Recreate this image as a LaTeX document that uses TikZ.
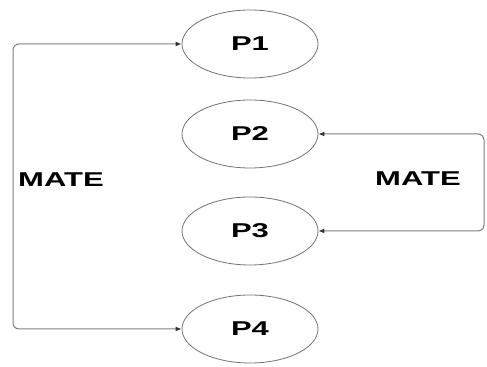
\documentclass[tikz,border=0pt]{standalone}
\usepackage{fontspec}
\newfontfamily\widesans[FakeStretch=1.55]{Liberation Sans}
\usetikzlibrary{arrows.meta,shapes.geometric}

\begin{document}
\begin{tikzpicture}[x=0.5pt, y=-0.5pt,
    every node/.style={font=\widesans\bfseries\fontsize{10}{12}\selectfont},
    person/.style={ellipse,draw=black!55,inner sep=0pt,minimum width=68pt,minimum height=34pt},
    mate/.style={draw=black!50,line width=0.5pt,rounded corners=3pt,{Latex[length=3pt,width=2.4pt,black!80]}-{Latex[length=3pt,width=2.4pt,black!80]}}]
  \useasboundingbox (0,0) rectangle (487,367);
  \node[person] (p1) at (250,44)  {P1};
  \node[person] (p2) at (250,134) {P2};
  \node[person] (p3) at (250,231) {P3};
  \node[person] (p4) at (250,329) {P4};
  % left loop
  \coordinate (lft) at (13,186);
  \draw[mate] (p1.west) -| (lft) |- (p4.west);
  \node (lmate) at (61,180) {MATE};
  % right loop
  \coordinate (rgt) at (484,182);
  \draw[mate] (p2.east) -| (rgt) |- (p3.east);
  \node (rmate) at (418,179) {MATE};
\end{tikzpicture}
\end{document}
